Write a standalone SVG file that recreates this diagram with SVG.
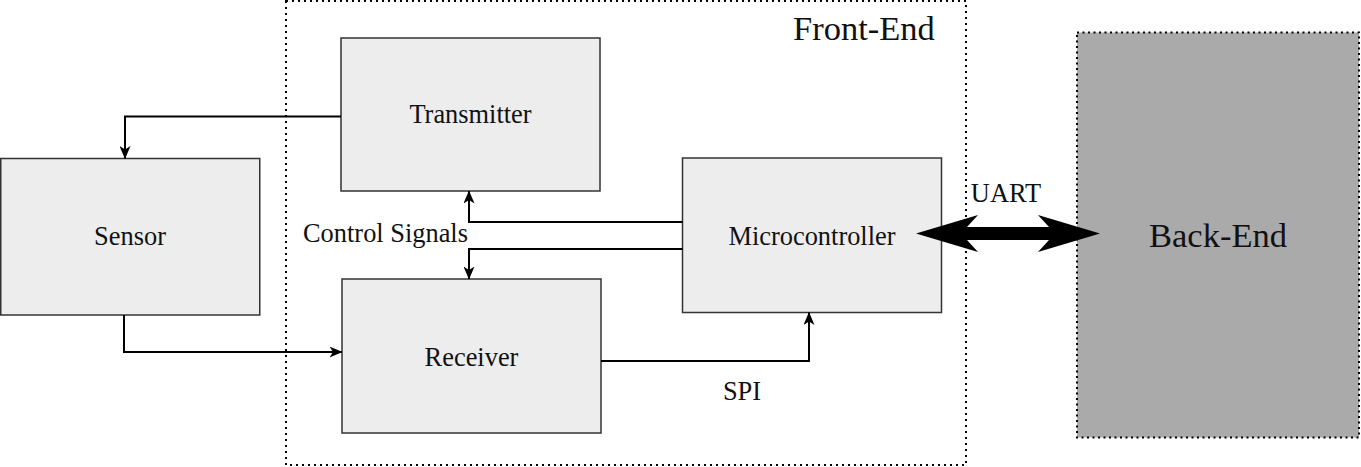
<svg xmlns="http://www.w3.org/2000/svg" width="1361" height="467" viewBox="0 0 1361 467">
<style>
.box{fill:#ededed;stroke:#333;stroke-width:1.5}
.lbl{font-family:"Liberation Serif","Times New Roman",serif;font-size:26.4px;fill:#111;text-anchor:middle}
.big{font-family:"Liberation Serif","Times New Roman",serif;font-size:34.5px;fill:#111}
.conn{fill:none;stroke:#000;stroke-width:2;marker-end:url(#arr)}
</style>
<defs>
<marker id="arr" markerUnits="userSpaceOnUse" viewBox="0 0 13 11" markerWidth="13" markerHeight="11" refX="12.5" refY="5.5" orient="auto">
<path d="M0,0 L13,5.5 L0,11 L3.5,5.5 Z" fill="#000"/>
</marker>
</defs>
<rect width="1361" height="467" fill="#fff"/>
<g id="front-end">
<rect x="286" y="1" width="680" height="464" fill="none" stroke="#000" stroke-width="2" stroke-dasharray="2 4"/>
<text class="big" x="793" y="40">Front-End</text>
</g>
<g id="back-end">
<rect x="1077" y="32.5" width="282" height="405" fill="#aaa" stroke="#000" stroke-width="2" stroke-dasharray="2 3.5"/>
<text class="big" x="1218" y="247" text-anchor="middle">Back-End</text>
</g>
<g id="transmitter">
<rect class="box" x="341" y="38" width="259" height="153"/>
<text class="lbl" x="470.5" y="123">Transmitter</text>
</g>
<g id="sensor">
<rect class="box" x="0.75" y="158.5" width="259" height="156.5"/>
<text class="lbl" x="130" y="245">Sensor</text>
</g>
<g id="receiver">
<rect class="box" x="342" y="279" width="259" height="154"/>
<text class="lbl" x="471.5" y="366">Receiver</text>
</g>
<g id="microcontroller">
<rect class="box" x="682.5" y="158" width="259" height="154.5"/>
<text class="lbl" x="812" y="245">Microcontroller</text>
</g>
<g id="connectors">
<path class="conn" d="M341,116.5 H125 V158.5"/>
<path class="conn" d="M682.5,222 H469 V191"/>
<path class="conn" d="M682.5,249 H469 V279"/>
<path class="conn" d="M124,315 V352 H342"/>
<path class="conn" d="M601,361 H809 V312.5"/>
<polygon points="916,233.5 978,215 967,227 1049,227 1038,215 1100,233.5 1038,252 1049,240 967,240 978,252" fill="#000"/>
<text class="lbl" x="1006" y="202">UART</text>
<text class="lbl" x="742" y="400">SPI</text>
<text class="lbl" x="385.5" y="242">Control Signals</text>
</g>
</svg>
